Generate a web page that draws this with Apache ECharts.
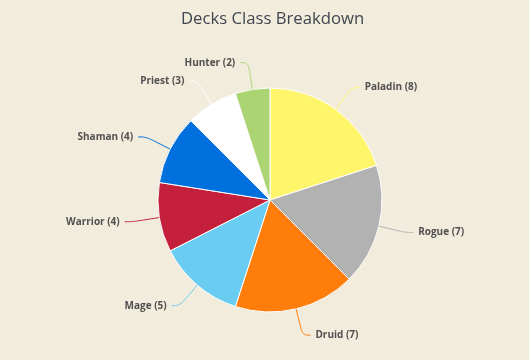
<!DOCTYPE html>
<html><head><meta charset="utf-8">
<script src="https://cdn.jsdelivr.net/npm/echarts@6/dist/echarts.min.js"></script>
<style>html,body{margin:0;padding:0;background:#f2ecdc;}#c{width:529px;height:360px;}</style>
</head><body><div id="c"></div>
<script>
const categories = ['Paladin','Rogue','Druid','Mage','Warrior','Shaman','Priest','Hunter'];
const values = [8,7,7,5,4,4,3,2];
const colors = ['#fff56a','#b2b2b2','#ff7d0a','#69ccf0','#c41f3b','#0070de','#ffffff','#abd473'];
const chart = echarts.init(document.getElementById('c'));
chart.setOption({
  backgroundColor: '#f2ecdc',
  title: {text: 'Decks Class Breakdown', left: 176, top: 6,
    textStyle: {fontFamily: 'Open Sans', fontSize: 16.7, fontWeight: 'normal', color: '#3f4650'}},
  series: [{
    type: 'pie', center: [270, 200], radius: 112, startAngle: 90, clockwise: true,
    animation: false,
    data: categories.map((n,i)=>({name:n, value:values[i], itemStyle:{color:colors[i]}, labelLine:{lineStyle:{color:colors[i]}}})),
    itemStyle: {borderColor: '#ffffff', borderWidth: 1},
    label: {formatter: '{b} ({c})', fontFamily: 'Open Sans', fontSize: 10, fontWeight: 'bold', color: '#505050'},
    labelLine: {length: 27, length2: 8, smooth: 0.4}
  }]
});
</script></body></html>
